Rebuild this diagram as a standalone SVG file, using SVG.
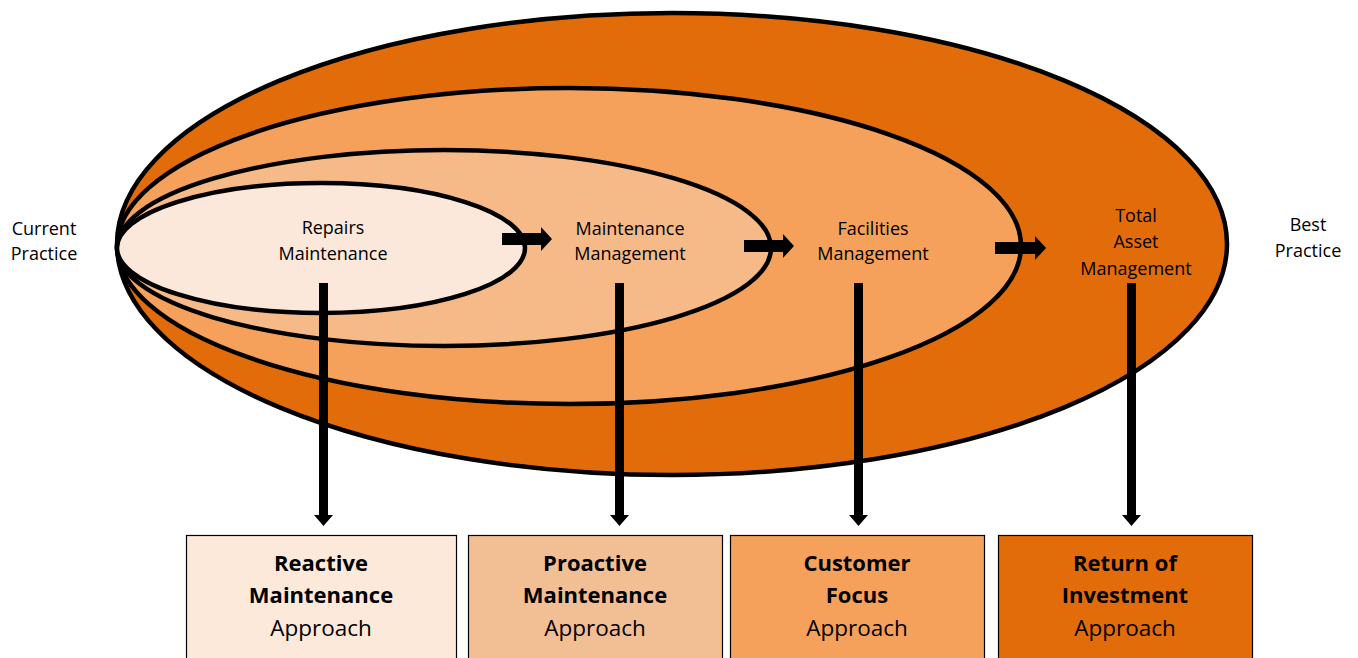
<svg xmlns="http://www.w3.org/2000/svg" width="1358" height="658" viewBox="0 0 1358 658">
  <style>
    .ring { stroke: #000; stroke-width: 4.5; }
    .lbl { font-family: "Open Sans", "Liberation Sans", sans-serif; font-size: 18px; fill: #000; text-anchor: middle; }
    .box { stroke: #000; stroke-width: 1.2; }
    .bt { font-family: "Open Sans", "Liberation Sans", sans-serif; font-size: 22.5px; fill: #000; text-anchor: middle; }
    .b { font-weight: bold; font-size: 22px; }
    .arrow { fill: #000; }
  </style>
  <rect width="1358" height="658" fill="#fff"/>

  <!-- nested practice rings, outermost first -->
  <g id="ring-total-asset">
    <ellipse class="ring" cx="672" cy="244" rx="555" ry="231" fill="#E36C0A"/>
  </g>
  <g id="ring-facilities">
    <ellipse class="ring" cx="569" cy="246" rx="452" ry="158" fill="#F6A15B"/>
  </g>
  <g id="ring-maintenance-mgmt">
    <ellipse class="ring" cx="444" cy="248" rx="327" ry="98" fill="#F6BA89"/>
  </g>
  <g id="ring-repairs">
    <ellipse class="ring" cx="321" cy="248" rx="204" ry="65" fill="#FCE8DA"/>
  </g>

  <g id="side-labels">
    <text class="lbl" x="44" y="235">Current</text>
    <text class="lbl" x="44" y="260">Practice</text>
    <text class="lbl" x="1308" y="231">Best</text>
    <text class="lbl" x="1308" y="257">Practice</text>
  </g>

  <g id="ring-labels">
    <text class="lbl" x="333" y="234">Repairs</text>
    <text class="lbl" x="333" y="260">Maintenance</text>
    <text class="lbl" x="630" y="235">Maintenance</text>
    <text class="lbl" x="630" y="260">Management</text>
    <text class="lbl" x="873" y="235">Facilities</text>
    <text class="lbl" x="873" y="260">Management</text>
    <text class="lbl" x="1136" y="222">Total</text>
    <text class="lbl" x="1136" y="248">Asset</text>
    <text class="lbl" x="1136" y="275">Management</text>
  </g>

  <!-- connectors: progression arrows and drop arrows to approaches -->
  <g id="connectors">
    <polygon class="arrow" points="502,233 541,233 541,227 552,239 541,251 541,245 502,245"/>
    <polygon class="arrow" points="744,240 783,240 783,234 794,246 783,258 783,252 744,252"/>
    <polygon class="arrow" points="995,242 1035,242 1035,236 1046,248 1035,260 1035,254 995,254"/>

    <polygon class="arrow" points="319,283 328,283 328,515 333,515 323.5,526 314,515 319,515"/>
    <polygon class="arrow" points="615,283 624,283 624,515 629,515 619.5,526 610,515 615,515"/>
    <polygon class="arrow" points="854,283 863,283 863,515 868,515 858.5,526 849,515 854,515"/>
    <polygon class="arrow" points="1127,283 1136,283 1136,515 1141,515 1131.5,526 1122,515 1127,515"/>
  </g>

  <g id="box-reactive">
    <rect class="box" x="186.5" y="535.5" width="270" height="130" fill="#FDE9DA"/>
    <text class="bt b" x="321" y="571">Reactive</text>
    <text class="bt b" x="321" y="603">Maintenance</text>
    <text class="bt" x="321" y="636">Approach</text>
  </g>
  <g id="box-proactive">
    <rect class="box" x="468.5" y="535.5" width="254" height="130" fill="#F2BE93"/>
    <text class="bt b" x="595" y="571">Proactive</text>
    <text class="bt b" x="595" y="603">Maintenance</text>
    <text class="bt" x="595" y="636">Approach</text>
  </g>
  <g id="box-customer">
    <rect class="box" x="730.5" y="535.5" width="254" height="130" fill="#F6A15B"/>
    <text class="bt b" x="857" y="571">Customer</text>
    <text class="bt b" x="857" y="603">Focus</text>
    <text class="bt" x="857" y="636">Approach</text>
  </g>
  <g id="box-return">
    <rect class="box" x="998.5" y="535.5" width="254" height="130" fill="#E36C0A"/>
    <text class="bt b" x="1125" y="571">Return of</text>
    <text class="bt b" x="1125" y="603">Investment</text>
    <text class="bt" x="1125" y="636">Approach</text>
  </g>
</svg>
